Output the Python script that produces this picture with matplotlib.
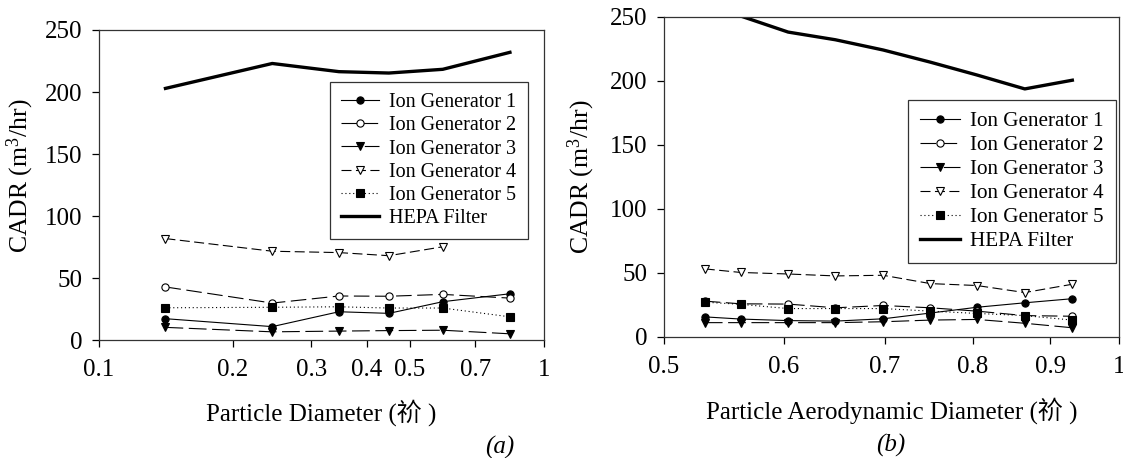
import numpy as np
import matplotlib
matplotlib.use("Agg")
import matplotlib.pyplot as plt
from matplotlib.ticker import FixedLocator, NullLocator, FixedFormatter

plt.rcParams['font.family'] = ['Liberation Serif', 'Noto Sans CJK TC']
plt.rcParams['mathtext.fontset'] = 'custom'
plt.rcParams['mathtext.rm'] = 'Liberation Serif'
plt.rcParams['mathtext.it'] = 'Liberation Serif:italic'

# panel (a): particle diameter (log axis)
dp_a = [0.141, 0.245, 0.346, 0.448, 0.592, 0.838]
ig1_a = [17.2, 10.8, 22.8, 21.5, 30.9, 37.3]
ig2_a = [42.8, 29.8, 35.5, 35.3, 36.8, 33.8]
ig3_a = [10.2, 6.6, 7.2, 7.6, 7.9, 5.0]
ig4_a = [81.8, 71.6, 70.5, 68.0, 75.2, np.nan]
ig5_a = [26.0, 26.4, 26.8, 25.8, 25.8, 18.7]
hepa_a = [202.9, 223.0, 216.4, 215.3, 218.3, 232.0]

# panel (b): particle aerodynamic diameter (log axis)
dp_b = [0.532, 0.562, 0.604, 0.649, 0.698, 0.750, 0.805, 0.866, 0.931]
ig1_b = [15.5, 13.8, 12.6, 12.2, 14.0, 18.5, 23.0, 26.5, 29.7]
ig2_b = [27.8, 25.7, 25.5, 22.6, 24.4, 22.6, 20.0, 16.5, 16.0]
ig3_b = [11.0, 11.0, 11.0, 11.0, 11.7, 13.0, 13.5, 10.5, 7.0]
ig4_b = [53.0, 50.2, 49.0, 47.5, 48.0, 41.5, 40.0, 34.5, 41.0]
ig5_b = [27.0, 25.3, 22.0, 22.0, 22.0, 20.0, 18.2, 16.5, 13.0]
hepa_b = [np.nan, 250.5, 238.0, 232.0, 224.0, 214.5, 204.5, 193.6, 200.4]

labels = ['Ion Generator 1', 'Ion Generator 2', 'Ion Generator 3',
          'Ion Generator 4', 'Ion Generator 5', 'HEPA Filter']
xticks_a = [0.1, 0.2, 0.3, 0.4, 0.5, 0.7, 1]
xticklabels_a = ['0.1', '0.2', '0.3', '0.4', '0.5', '0.7', '1']
xticks_b = [0.5, 0.6, 0.7, 0.8, 0.9, 1]
xticklabels_b = ['0.5', '0.6', '0.7', '0.8', '0.9', '1']
yticks = [0, 50, 100, 150, 200, 250]

styles = [
    dict(ls='-', marker='o', mfc='black'),
    dict(ls=(0, (14, 5)), marker='o', mfc='white'),
    dict(ls=(0, (16, 5)), marker='v', mfc='black'),
    dict(ls=(0, (9, 4)), marker='v', mfc='white'),
    dict(ls=(0, (1, 2.5)), marker='s', mfc='black'),
]


def draw(ax, x, series, hepa, xticks, xticklabels, xlim, xlabel, tag,
         leg_anchor, leg_size, ylab_pos):
    for y, st, lab in zip(series, styles, labels):
        ax.plot(x, y, color='black', lw=0.8, ls=st['ls'], marker=st['marker'],
                mfc=st['mfc'], mec='black', mew=0.8, ms=5.2, label=lab)
    ax.plot(x, hepa, color='black', lw=2.4, label=labels[5])
    ax.set_xscale('log')
    ax.set_xlim(*xlim)
    ax.set_ylim(0, 250)
    ax.xaxis.set_major_locator(FixedLocator(xticks))
    ax.xaxis.set_major_formatter(FixedFormatter(xticklabels))
    ax.xaxis.set_minor_locator(NullLocator())
    ax.set_yticks(yticks)
    ax.tick_params(axis='both', direction='out', length=5, width=0.9,
                   labelsize=18, top=False, right=False)
    ax.tick_params(axis='x', pad=9)
    ax.tick_params(axis='y', pad=7)
    for s in ax.spines.values():
        s.set_linewidth(0.9)
        s.set_color('#333333')
    ax.set_ylabel(r'CADR (m$^3$/hr)', fontsize=18.5)
    ax.set_xlabel(xlabel, fontsize=18)
    ax.yaxis.set_label_coords(*ylab_pos)
    ax.xaxis.set_label_coords(0.5, -0.19)
    ax.text(tag[0], tag[1], tag[2], transform=ax.transAxes, fontsize=18,
            style='italic', ha='center', va='center')
    leg = ax.legend(loc='upper left', bbox_to_anchor=leg_anchor, fontsize=leg_size,
                    frameon=True, fancybox=False, edgecolor='black',
                    handlelength=1.9, handletextpad=0.5, labelspacing=0.2,
                    borderpad=0.55, borderaxespad=0)
    leg.get_frame().set_linewidth(0.9)


fig = plt.figure(figsize=(11.23, 4.58), dpi=100)
ax1 = fig.add_axes([0.0882, 0.2576, 0.3963, 0.6769])
ax2 = fig.add_axes([0.5913, 0.2648, 0.4054, 0.6987])

draw(ax1, dp_a, [ig1_a, ig2_a, ig3_a, ig4_a, ig5_a], hepa_a,
     xticks_a, xticklabels_a, (0.1, 1), 'Particle Diameter (祄 )',
     (0.9, -0.345, '(a)'), (0.519, 0.832), 14.5, (-0.142, 0.53))
draw(ax2, dp_b, [ig1_b, ig2_b, ig3_b, ig4_b, ig5_b], hepa_b,
     xticks_b, xticklabels_b, (0.5, 1), 'Particle Aerodynamic Diameter (祄 )',
     (0.497, -0.34, '(b)'), (0.536, 0.74), 15.2, (-0.147, 0.5))

fig.savefig('out.png', dpi=100)
